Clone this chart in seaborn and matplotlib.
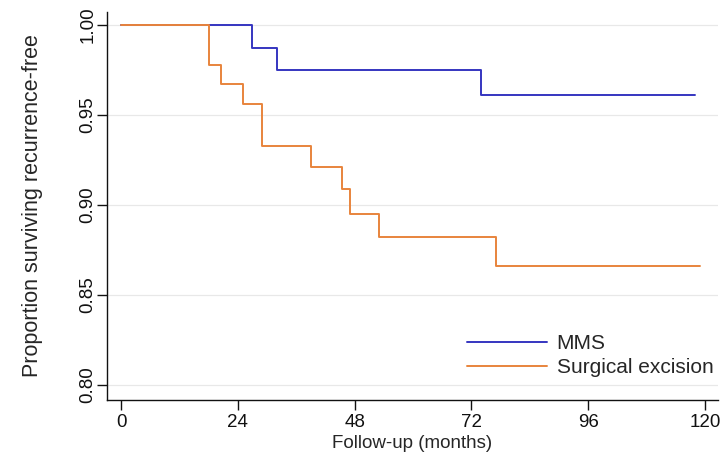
import matplotlib
matplotlib.use("Agg")
import matplotlib.pyplot as plt
import seaborn as sns
import pandas as pd
from matplotlib.lines import Line2D

# Kaplan-Meier step data
mms_time = [0, 27, 32, 74, 118]
mms_surv = [1.0, 0.987, 0.975, 0.961, 0.961]
surg_time = [0, 18, 20.5, 25, 29, 39, 45.5, 47, 53, 77, 119]
surg_surv = [1.0, 0.978, 0.967, 0.956, 0.933, 0.921, 0.909, 0.895, 0.882, 0.866, 0.866]
groups = ["MMS", "Surgical excision"]
x_ticks = [0, 24, 48, 72, 96, 120]
y_ticks = [0.80, 0.85, 0.90, 0.95, 1.00]
y_tick_labels = ["0.80", "0.85", "0.90", "0.95", "1.00"]

df = pd.concat([
    pd.DataFrame({"time": mms_time, "surv": mms_surv, "group": groups[0]}),
    pd.DataFrame({"time": surg_time, "surv": surg_surv, "group": groups[1]}),
], ignore_index=True)

sns.set_style("white")
plt.rcParams["font.family"] = ["Liberation Sans", "DejaVu Sans"]

fig = plt.figure(figsize=(7.21, 4.55), dpi=100)
ax = fig.add_axes([107 / 721, 1 - 400 / 455, (718 - 107) / 721, (400 - 12) / 455])

palette = {"MMS": "#3535c0", "Surgical excision": "#e8843c"}
sns.lineplot(data=df, x="time", y="surv", hue="group", palette=palette,
             drawstyle="steps-post", estimator=None, linewidth=1.4, ax=ax,
             legend=False)

ax.set_xlim(-2.9, 122.7)
ax.set_ylim(0.7917, 1.0072)
ax.set_xticks(x_ticks)
ax.set_yticks(y_ticks)
ax.set_yticklabels(y_tick_labels, rotation=90, va="center")
ax.tick_params(axis="both", direction="out", length=7, width=1, labelsize=13.5,
               colors="#111111", left=True, bottom=True)
ax.tick_params(axis="y", pad=0.5)
ax.tick_params(axis="x", pad=3)
ax.grid(axis="y", color="#e8e8e8", linewidth=0.9)
ax.grid(axis="x", visible=False)

for s in ["top", "right"]:
    ax.spines[s].set_visible(False)
for s in ["left", "bottom"]:
    ax.spines[s].set_color("#111111")
    ax.spines[s].set_linewidth(1.0)

ax.set_xlabel("Follow-up (months)", fontsize=13.5, labelpad=3)
ax.set_ylabel("Proportion surviving recurrence-free", fontsize=15.5, labelpad=26)

handles = [Line2D([], [], color=palette[g], linewidth=1.4) for g in groups]
fig.legend(handles, groups, loc="upper left", frameon=False,
           bbox_to_anchor=(467 / 721, 1 - 334 / 455), bbox_transform=fig.transFigure,
           fontsize=15, handlelength=3.85, handletextpad=0.45, labelspacing=0.25,
           borderpad=0, borderaxespad=0)

fig.savefig("out.png", dpi=100)
